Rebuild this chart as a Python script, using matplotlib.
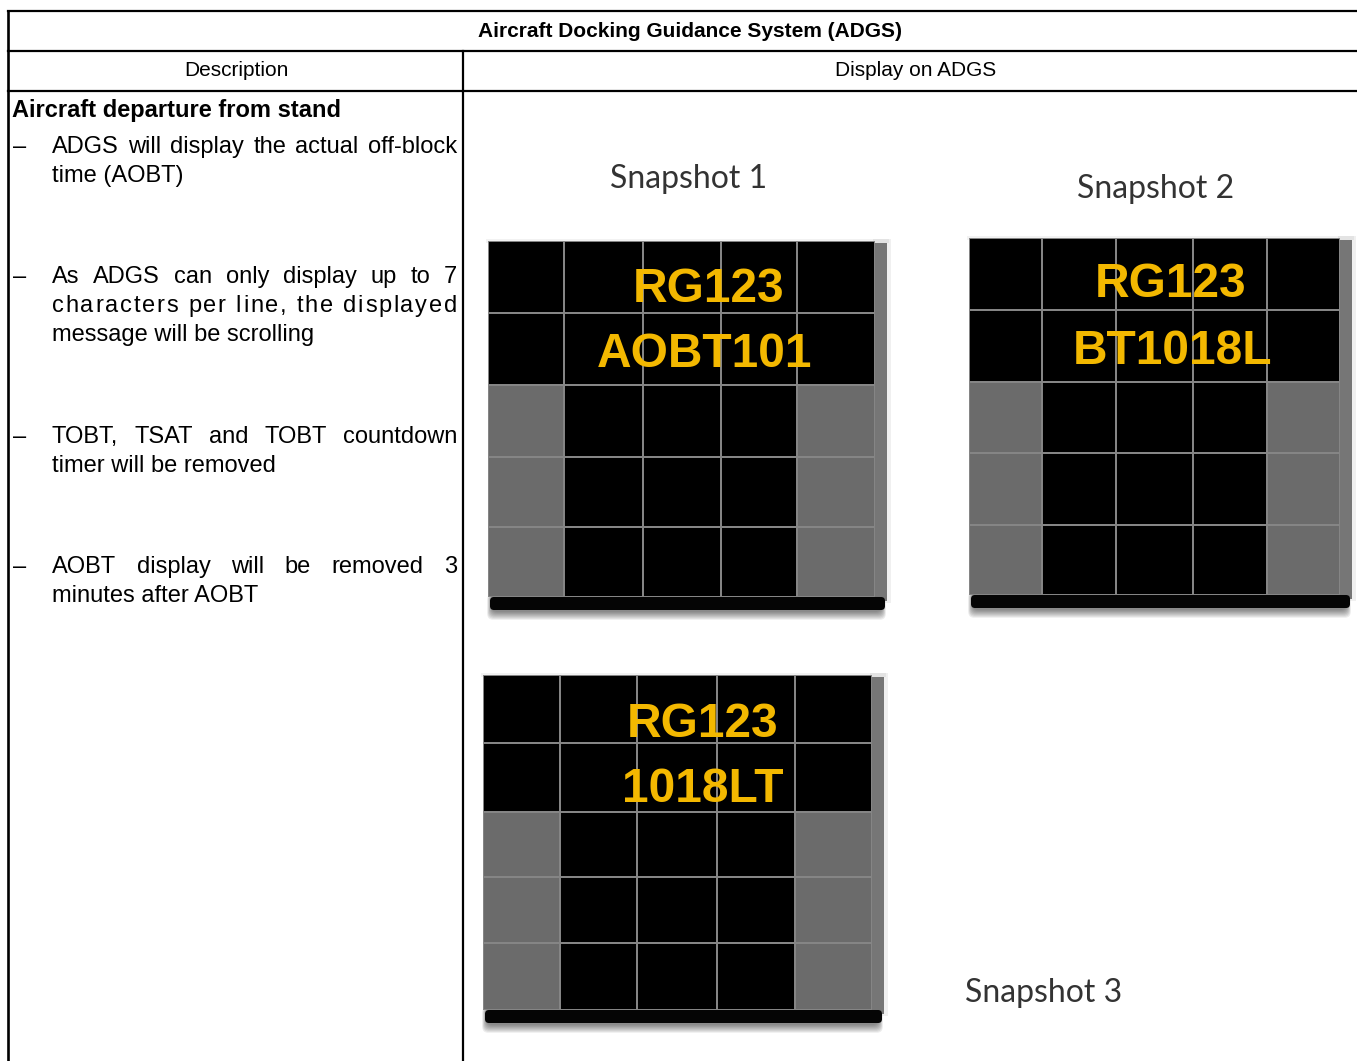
import matplotlib
matplotlib.use("Agg")
import matplotlib.pyplot as plt
from matplotlib.patches import Rectangle, FancyBboxPatch

W, H = 1357, 1061

# --- content ---
title = "Aircraft Docking Guidance System (ADGS)"
col_headers = ["Description", "Display on ADGS"]
section = "Aircraft departure from stand"
bullets = [
    ["ADGS will display the actual off-block", "time (AOBT)"],
    ["As ADGS can only display up to 7", "characters per line, the displayed", "message will be scrolling"],
    ["TOBT, TSAT and TOBT countdown", "timer will be removed"],
    ["AOBT display will be removed 3", "minutes after AOBT"],
]
snap_labels = ["Snapshot 1", "Snapshot 2", "Snapshot 3"]
snap_msgs = [["RG123", "AOBT101"], ["RG123", "BT1018L"], ["RG123", "1018LT"]]
# K = black cell, G = grey cell
cell_pattern = ["KKKKK", "KKKKK", "GKKKG", "GKKKG", "GKKKG"]

# --- layout (pixels) ---
panels = [
    dict(cols=[488, 564, 643, 721, 797, 875], rows=[241, 313, 385, 457, 527, 597],
         text_x=[709, 705], text_y=[302, 367], label=(689, 188)),
    dict(cols=[969, 1042, 1116, 1193, 1267, 1340], rows=[238, 310, 382, 453, 525, 595],
         text_x=[1171, 1172], text_y=[297, 364], label=(1156, 198)),
    dict(cols=[483, 560, 637, 717, 795, 872], rows=[675, 743, 812, 877, 943, 1010],
         text_x=[703, 703], text_y=[737, 802], label=(1044, 1002)),
]
bullet_y = [153, 283, 443, 573]
line_step = 29

fig = plt.figure(figsize=(W / 100, H / 100), dpi=100)
ax = fig.add_axes([0, 0, 1, 1])
ax.set_xlim(0, W)
ax.set_ylim(H, 0)
ax.axis("off")
renderer = fig.canvas.get_renderer()

# table rules
lw = 1.6
ax.plot([8, W + 5], [11, 11], color="black", lw=lw)
ax.plot([8, W + 5], [51, 51], color="black", lw=lw)
ax.plot([8, W + 5], [90.5, 90.5], color="black", lw=lw)
ax.plot([8, 8], [11, H + 5], color="black", lw=lw + 0.3)
ax.plot([463, 463], [51, H + 5], color="black", lw=lw)

body = dict(family="Liberation Sans", color="black")
ax.text(690, 37, title, fontsize=15, fontweight="bold", ha="center", va="baseline", **body)
ax.text(236, 76, col_headers[0], fontsize=15, ha="center", va="baseline", **body)
ax.text(916, 76, col_headers[1], fontsize=15, ha="center", va="baseline", **body)
ax.text(12, 117, section, fontsize=17, fontweight="bold", ha="left", va="baseline", **body)


def justify(pieces, x0, x1, y, size):
    arts = [ax.text(0, y, s, fontsize=size, va="baseline", **body) for s in pieces]
    widths = [a.get_window_extent(renderer=renderer).width for a in arts]
    gap = (x1 - x0 - sum(widths)) / (len(pieces) - 1)
    x = x0
    for a, w in zip(arts, widths):
        a.set_x(x)
        x += w + gap


def letter_spaced(line, x0, x1, y, size):
    # spread the extra room over every character, like the source does
    full = ax.text(0, y, line, fontsize=size, va="baseline", **body)
    total = full.get_window_extent(renderer=renderer).width
    full.remove()
    extra = (x1 - x0 - total) / (len(line) - 1)
    for i, ch in enumerate(line):
        pre = ax.text(0, y, line[:i] + "|", fontsize=size, va="baseline", **body)
        bar = ax.text(0, y, "|", fontsize=size, va="baseline", **body)
        off = pre.get_window_extent(renderer=renderer).width - bar.get_window_extent(renderer=renderer).width
        pre.remove()
        bar.remove()
        if ch != " ":
            ax.text(x0 + off + i * extra, y, ch, fontsize=size, va="baseline", **body)


for lines, y0 in zip(bullets, bullet_y):
    ax.text(13, y0, "\u2013", fontsize=17, va="baseline", **body)
    for i, line in enumerate(lines):
        y = y0 + i * line_step
        if line.startswith("characters"):
            letter_spaced(line, 52, 457, y, 17)
        elif i < len(lines) - 1:
            justify(line.split(), 52, 457, y, 17)
        else:
            ax.text(52, y, line, fontsize=17, va="baseline", **body)


def draw_panel(p, msgs, label):
    cols, rows = p["cols"], p["rows"]
    x0, x1, y0, y1 = cols[0], cols[-1], rows[0], rows[-1]
    # blurred drop shadow under the board
    for k in range(1, 9):
        ax.add_patch(FancyBboxPatch((x0 + 4 - k * 0.6, y1 - 2 - k * 0.2), x1 + 10 - x0 - 8 + k * 1.2,
                                    16 + k * 1.3, boxstyle="round,pad=0,rounding_size=6",
                                    color="black", alpha=0.07, lw=0, zorder=1))
    ax.add_patch(Rectangle((x1 - 2, y0 - 2), 18, y1 - y0 + 8, color="black", alpha=0.06, lw=0, zorder=1))
    ax.add_patch(Rectangle((x0 - 2, y0 - 2), x1 - x0 + 16, 4, color="black", alpha=0.05, lw=0, zorder=1))
    # right strip and bottom bar
    ax.add_patch(Rectangle((x1, y0 + 2), 12, y1 - y0 + 2, color="#767676", lw=0, zorder=2))
    ax.add_patch(FancyBboxPatch((x0 + 2, y1), x1 + 10 - x0 - 2, 13,
                                boxstyle="round,pad=0,rounding_size=4",
                                color="#050505", lw=0, zorder=2))
    # grid
    ax.add_patch(Rectangle((x0, y0), x1 - x0, y1 - y0, color="#858585", lw=0, zorder=2))
    for r in range(5):
        for c in range(5):
            fc = "#6b6b6b" if cell_pattern[r][c] == "G" else "black"
            ax.add_patch(Rectangle((cols[c] + 1.3, rows[r] + 1.3), cols[c + 1] - cols[c] - 2.6,
                                   rows[r + 1] - rows[r] - 2.6, color=fc, lw=0, zorder=3))
    for m, tx, ty in zip(msgs, p["text_x"], p["text_y"]):
        ax.text(tx, ty, m, fontsize=34.5, fontweight="bold", family="Liberation Sans",
                color="#f3b800", ha="center", va="baseline", zorder=5)
    lx, ly = p["label"]
    ax.text(lx, ly, label, fontsize=23, family="Lato", color="#333333",
            ha="center", va="baseline", zorder=5)


for p, msgs, label in zip(panels, snap_msgs, snap_labels):
    draw_panel(p, msgs, label)

fig.savefig("out.png", dpi=100, facecolor="white")
